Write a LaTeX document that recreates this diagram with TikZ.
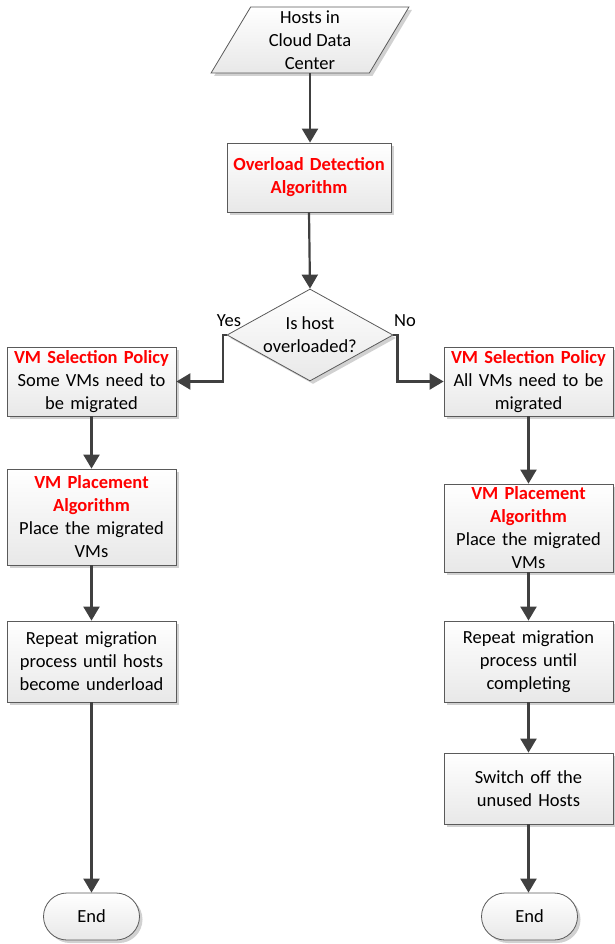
\documentclass[tikz,border=0pt]{standalone}
\usepackage{fontspec}
\setmainfont{Carlito}
\usetikzlibrary{shapes.geometric,shapes.misc,arrows.meta,shadows}
\definecolor{lnc}{HTML}{404040}
\definecolor{brd}{HTML}{5A5A5A}
\definecolor{redt}{HTML}{FF0000}
\newcommand{\rt}[1]{{\bfseries\color{redt}#1}}
\begin{document}
\begin{tikzpicture}[x=1pt,y=-1pt,
  txt/.style={font=\fontsize{18.5}{23}\selectfont, align=center},
  shp/.style={draw=brd, line width=0.8pt, top color=white, bottom color=black!9,
     drop shadow={shadow xshift=3pt, shadow yshift=-3pt, fill=black!18, opacity=1}},
  box/.style={shp, txt, rectangle, inner sep=0pt, text width=168pt, minimum width=169pt},
  para/.style={shp, txt, trapezium, trapezium left angle=65, trapezium right angle=115,
     trapezium stretches=true, minimum width=198pt, minimum height=66pt, inner sep=0pt},
  dia/.style={shp, diamond, minimum width=166pt, minimum height=92pt, inner sep=0pt},
  term/.style={shp, txt, rounded rectangle, minimum width=96pt, minimum height=47pt, inner sep=0pt},
  arr/.style={draw=lnc, line width=2.2pt, -{Triangle[length=14pt,width=16pt]}},
  lbl/.style={font=\fontsize{18.5}{20}\selectfont, inner sep=0pt}
]
\useasboundingbox (0,0) rectangle (614,944);

\node[para] (hosts) at (310,40) {Hosts in\\Cloud Data\\Center};
\node[box, minimum height=69pt, text width=162pt, minimum width=164pt] (ovl) at (309,177.5) {\rt{Overload Detection}\\\rt{Algorithm}};
\node[dia] (dec) at (310,335) {};
\node[txt] (dect) at (dec) {Is host\\overloaded?};

\node[box, minimum height=69pt] (selL) at (91.5,381.5) {\rt{VM Selection Policy}\\Some VMs need to\\be migrated};
\node[box, minimum height=96pt] (plL) at (91.5,517) {\rt{VM Placement}\\\rt{Algorithm}\\Place the migrated\\VMs};
\node[box, minimum height=81pt] (repL) at (91.5,661.5) {Repeat migration\\process until hosts\\become underload};
\node[term] (endL) at (91.5,916.5) {End};

\node[box, minimum height=69pt] (selR) at (528.5,381.5) {\rt{VM Selection Policy}\\All VMs need to be\\migrated};
\node[box, minimum height=88pt] (plR) at (528.5,528) {\rt{VM Placement}\\\rt{Algorithm}\\Place the migrated\\VMs};
\node[box, minimum height=81pt] (repR) at (528.5,661.5) {Repeat migration\\process until\\completing};
\node[box, minimum height=71pt] (swR) at (528.5,788.5) {Switch off the\\unused Hosts};
\node[term] (endR) at (529.5,916.5) {End};

\draw[arr] (hosts.south) -- (hosts.south |- ovl.north);
\draw[arr] (ovl.south) -- (dec.north);
\draw[arr] (dec.west) -- ++(-4,0) |- (selL.east);
\draw[arr] (dec.east) -- ++(4,0) |- (selR.west);
\draw[arr] (selL) -- (plL);
\draw[arr] (plL) -- (repL);
\draw[arr] (repL.south) -- (repL.south |- endL.north);
\draw[arr] (selR) -- (plR);
\draw[arr] (plR) -- (repR);
\draw[arr] (repR) -- (swR);
\draw[arr] (swR.south) -- (swR.south |- endR.north);

\node[lbl] (yes) at (229,321) {Yes};
\node[lbl] (no) at (405,321) {No};
\end{tikzpicture}
\end{document}
